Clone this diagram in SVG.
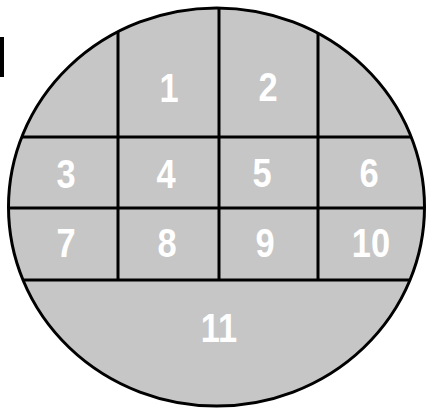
<svg xmlns="http://www.w3.org/2000/svg" width="426" height="408" viewBox="0 0 426 408">
<style>
.ln{stroke:#000;stroke-width:3;fill:none}
.lbl{font-family:"Liberation Sans",Arial,sans-serif;font-weight:bold;font-size:41px;fill:#fff;text-anchor:middle}
</style>
<defs>
<clipPath id="c"><ellipse cx="216.5" cy="207" rx="208" ry="199"/></clipPath>
</defs>
<rect x="0" y="37" width="4" height="40" fill="#000"/>
<ellipse id="wafer" cx="216.5" cy="207" rx="208" ry="199" fill="#c6c6c6"/>
<g id="connectors" class="ln" clip-path="url(#c)">
<line x1="118" y1="0" x2="118" y2="280"/>
<line x1="219" y1="0" x2="219" y2="280"/>
<line x1="318" y1="0" x2="318" y2="280"/>
<line x1="0" y1="137" x2="426" y2="137"/>
<line x1="0" y1="208" x2="426" y2="208"/>
<line x1="0" y1="280" x2="426" y2="280"/>
</g>
<ellipse cx="216.5" cy="207" rx="208" ry="199" class="ln"/>
<g id="n1"><text class="lbl" transform="translate(169,102) scale(0.84,1)">1</text></g>
<g id="n2"><text class="lbl" transform="translate(268,101) scale(0.84,1)">2</text></g>
<g id="n3"><text class="lbl" transform="translate(66,188) scale(0.84,1)">3</text></g>
<g id="n4"><text class="lbl" transform="translate(166,188) scale(0.84,1)">4</text></g>
<g id="n5"><text class="lbl" transform="translate(262,187) scale(0.84,1)">5</text></g>
<g id="n6"><text class="lbl" transform="translate(369,187) scale(0.84,1)">6</text></g>
<g id="n7"><text class="lbl" transform="translate(66,257) scale(0.84,1)">7</text></g>
<g id="n8"><text class="lbl" transform="translate(167,257) scale(0.84,1)">8</text></g>
<g id="n9"><text class="lbl" transform="translate(265,257) scale(0.84,1)">9</text></g>
<g id="n10"><text class="lbl" transform="translate(371,257) scale(0.84,1)">10</text></g>
<g id="n11"><text class="lbl" transform="translate(219,342) scale(0.84,1)">11</text></g>
</svg>
